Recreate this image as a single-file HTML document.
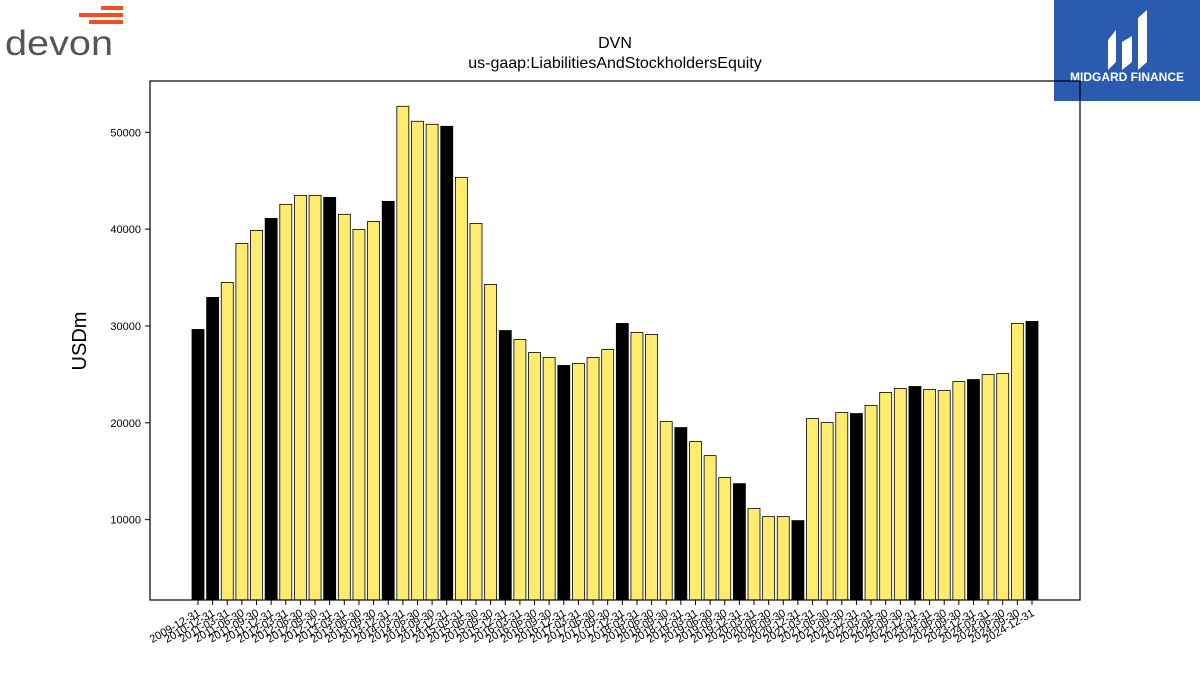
<!DOCTYPE html>
<html><head><meta charset="utf-8"><style>
body{margin:0;background:#fff;width:1200px;height:675px;overflow:hidden;font-family:"Liberation Sans","DejaVu Sans",sans-serif}
</style></head><body>
<svg id="chart" width="1200" height="675" xmlns="http://www.w3.org/2000/svg">
<g>
<rect x="101" y="6" width="22" height="4" fill="#f04e23"/>
<rect x="79" y="13" width="44" height="4" fill="#f04e23"/>
<rect x="89" y="20" width="34" height="4" fill="#f04e23"/>
<text x="5" y="55" font-size="35" fill="#555" font-family="Liberation Sans,sans-serif" textLength="108" lengthAdjust="spacingAndGlyphs">devon</text>
</g>
<g>
<rect x="1054" y="0" width="146" height="101" fill="#2a5bb0"/>
<path d="M1108 70 V40 L1116 30 V62 Z M1122 70 V42 L1132 36 V62 Z M1138 70 V18 L1147 10 V62 Z" fill="#fff"/>
<text x="1127" y="81" font-size="12" font-weight="bold" fill="#fff" text-anchor="middle">MIDGARD FINANCE</text>
</g>
<text x="615" y="48" font-size="16" text-anchor="middle">DVN</text>
<text x="615" y="68" font-size="16" text-anchor="middle">us-gaap:LiabilitiesAndStockholdersEquity</text>
<text transform="translate(86,341) rotate(-90)" font-size="20" text-anchor="middle">USDm</text>
<g id="bars"></g><g id="yticks"></g><g id="xticks"></g>
<rect x="150" y="81" width="930" height="519" fill="none" stroke="#000" stroke-width="1.2"/>
</svg>
<script>
const categories=["2009-12-31","2010-12-31"];
for(let y=2011;y<=2024;y++){categories.push(y+"-03-31",y+"-06-30",y+"-09-30",y+"-12-31");}
const values=[29640,32950,34500,38530,39870,41110,42560,43490,43490,43280,41530,39970,40800,42870,52690,51140,50830,50620,45350,40590,34290,29530,28600,27260,26740,25920,26120,26740,27570,30260,29330,29120,20130,19510,18060,16610,14340,13720,11140,10310,10310,9900,20440,20030,21060,20960,21790,23130,23540,23750,23440,23330,24260,24470,24990,25090,30260,30470];
const yTicks=[10000,20000,30000,40000,50000];
const ns="http://www.w3.org/2000/svg";
const yMin=1700,yMax=55300,plotTop=81,plotBot=600;
function yS(v){return plotBot-(v-yMin)/(yMax-yMin)*(plotBot-plotTop);}
const x0=198,x1=1032;
function xS(i){return x0+i*(x1-x0)/(categories.length-1);}
const bw=12;
const gb=document.getElementById('bars'),gy=document.getElementById('yticks'),gx=document.getElementById('xticks');
values.forEach((v,i)=>{
 const r=document.createElementNS(ns,'rect');
 r.setAttribute('x',xS(i)-bw/2);r.setAttribute('y',yS(v));r.setAttribute('width',bw);r.setAttribute('height',plotBot-yS(v));
 r.setAttribute('fill',categories[i].endsWith('12-31')?'#000':'#ffec6e');r.setAttribute('stroke','#000');r.setAttribute('stroke-width','0.8');
 
 
 gb.appendChild(r);
 const t=document.createElementNS(ns,'line');
 t.setAttribute('x1',xS(i));t.setAttribute('x2',xS(i));t.setAttribute('y1',plotBot);t.setAttribute('y2',plotBot+5);t.setAttribute('stroke','#000');
 
 
 gx.appendChild(t);
 const l=document.createElementNS(ns,'text');
 l.setAttribute('transform','translate('+(xS(i)+3)+','+(plotBot+15)+') rotate(-30)');
 l.setAttribute('text-anchor','end');l.setAttribute('font-size','11');l.textContent=categories[i];
 
 
 gx.appendChild(l);
});
yTicks.forEach(v=>{
 const t=document.createElementNS(ns,'line');
 t.setAttribute('x1',145);t.setAttribute('x2',150);t.setAttribute('y1',yS(v));t.setAttribute('y2',yS(v));t.setAttribute('stroke','#000');
 
 
 gy.appendChild(t);
 const l=document.createElementNS(ns,'text');
 l.setAttribute('x',141);l.setAttribute('y',yS(v)+4);l.setAttribute('text-anchor','end');l.setAttribute('font-size','11');l.textContent=v;
 
 
 gy.appendChild(l);
});
</script>
</body></html>
